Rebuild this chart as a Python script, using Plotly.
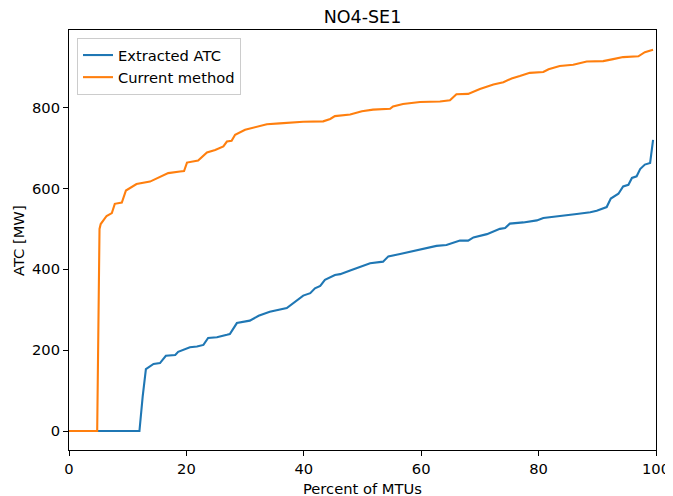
import plotly.graph_objects as go

# Values (percent of MTUs vs ATC in MW)
atc_pct = [0, 12.0, 12.55, 13.1, 14.4, 15.5, 16.5, 18.1, 18.6, 19.8, 20.6, 21.8, 22.9, 23.7,
           25.2, 26.9, 27.4, 28.6, 30.8, 32.3, 34.2, 37.1, 38.2, 39.9, 41.1, 41.9, 42.8, 43.6,
           45.3, 46.2, 47.9, 49.6, 51.3, 53.5, 54.4, 56.4, 58.1, 60.9, 62.6, 64.3, 66.6, 68.0,
           68.9, 71.2, 73.4, 74.3, 75.1, 77.4, 79.7, 80.8, 82.8, 84.8, 86.5, 88.8, 89.9, 91.6,
           92.3, 93.6, 94.4, 95.3, 95.9, 96.7, 97.3, 98.1, 99.0, 99.5]
atc_mw = [0, 0, 85, 153, 166, 168, 186, 188, 196, 202, 207, 209, 213, 230,
          232, 238, 240, 267, 273, 285, 295, 304, 316, 335, 341, 353, 359, 374,
          386, 388, 397, 407, 415, 419, 432, 438, 444, 452, 458, 460, 471, 471,
          479, 487, 500, 502, 513, 516, 521, 527, 531, 534, 537, 541, 545, 554,
          575, 587, 605, 609, 626, 630, 648, 659, 663, 720]

cur_pct = [0, 4.8, 5.2, 5.4, 6.4, 7.3, 7.8, 9.0, 9.7, 11.5, 13.8, 15.5, 16.9, 18.9, 19.6,
           20.1, 22.0, 23.5, 24.9, 26.3, 26.9, 27.7, 28.3, 30.0, 32.0, 33.7, 35.9, 37.6,
           39.9, 43.3, 44.5, 45.3, 47.9, 49.9, 51.8, 54.7, 55.2, 56.9, 59.8, 63.2, 64.9,
           66.0, 68.0, 70.0, 72.3, 74.0, 75.4, 76.8, 78.5, 80.8, 81.7, 83.6, 85.9, 88.2,
           91.0, 92.7, 94.4, 97.0, 98.1, 99.5]
cur_mw = [0, 0, 500, 512, 532, 539, 562, 565, 595, 611, 617, 628, 638, 642, 643,
          664, 669, 689, 695, 704, 716, 718, 733, 745, 753, 759, 761, 763,
          765, 766, 772, 779, 783, 791, 795, 797, 803, 809, 814, 815, 818,
          833, 834, 846, 857, 863, 872, 878, 886, 888, 895, 903, 906, 914,
          915, 920, 925, 927, 937, 943]

FONT = "DejaVu Sans"
FS = 14.7

fig = go.Figure()
fig.add_trace(go.Scatter(x=atc_pct, y=atc_mw, mode="lines", name="Extracted ATC",
                         line=dict(color="#1f77b4", width=2.1)))
fig.add_trace(go.Scatter(x=cur_pct, y=cur_mw, mode="lines", name="Current method",
                         line=dict(color="#ff7f0e", width=2.1)))

axis_style = dict(showline=True, linecolor="black", linewidth=1, mirror=True,
                  ticks="outside", ticklen=5, tickcolor="black", showgrid=False,
                  zeroline=False, automargin=False,
                  tickfont=dict(family=FONT, size=FS, color="black"))

# page body adds an 8px margin, so the figure is sized 8px smaller
fig.update_layout(
    width=665, height=488,
    margin=dict(l=61, r=17, t=22, b=46),
    paper_bgcolor="white", plot_bgcolor="white",
    font=dict(family=FONT, size=FS, color="black"),
    title=dict(text="NO4-SE1", x=0.5, xanchor="center", xref="paper",
               y=0.982, yref="container", yanchor="middle",
               font=dict(family=FONT, size=17.5, color="black")),
    xaxis=dict(range=[0, 100], tickvals=[0, 20, 40, 60, 80, 100], **axis_style),
    yaxis=dict(range=[-47, 992], tickvals=[0, 200, 400, 600, 800], **axis_style),
    legend=dict(x=0.0136, y=0.981, xanchor="left", yanchor="top",
                bgcolor="rgba(255,255,255,0.8)", bordercolor="#cccccc", borderwidth=1,
                font=dict(family=FONT, size=FS), tracegroupgap=0),
    showlegend=True,
    annotations=[
        dict(text="Percent of MTUs", xref="paper", yref="paper", x=0.5, y=-0.0905,
             xanchor="center", yanchor="middle", showarrow=False,
             font=dict(family=FONT, size=FS, color="black")),
        dict(text="ATC [MW]", xref="paper", yref="paper", x=-0.0869, y=0.5,
             xanchor="center", yanchor="middle", showarrow=False, textangle=-90,
             font=dict(family=FONT, size=FS, color="black")),
    ],
)

fig.write_html("out.html")
